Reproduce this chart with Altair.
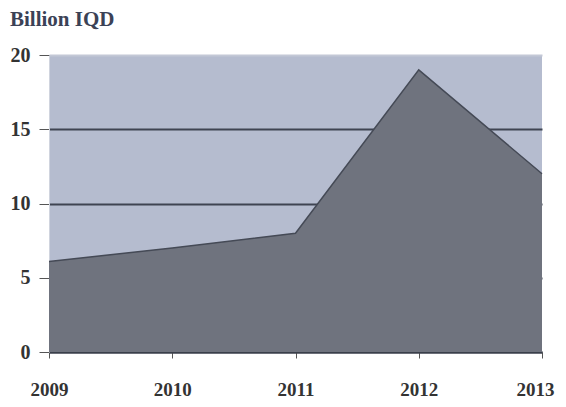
import altair as alt
import pandas as pd

years = [2009, 2010, 2011, 2012, 2013]
values = [6.1, 7.0, 8.0, 19.0, 12.0]
y_ticks = [0, 5, 10, 15, 20]

df = pd.DataFrame({"year": years, "value": values})

font = "Liberation Serif"

chart = alt.Chart(df).mark_area(
    color="#6f737e", opacity=1, line={"color": "#454a56", "strokeWidth": 1.5}
).encode(
    x=alt.X("year:Q", scale=alt.Scale(domain=[2009, 2013], nice=False, zero=False),
            axis=alt.Axis(values=years, format="d", title=None, grid=False,
                          labelFontSize=19, labelFontWeight="bold", labelFont=font,
                          labelColor="#333333", labelPadding=22, tickSize=6,
                          tickColor="#555555", domainColor="#3a3f4a", domainWidth=2,
                          labelFlush=False, labelBound=False,
                          labelOffset=alt.condition("datum.value == 2013",
                                                    alt.value(-7), alt.value(0)))),
    y=alt.Y("value:Q", scale=alt.Scale(domain=[0, 20], nice=False),
            axis=alt.Axis(values=y_ticks, title=None, grid=True,
                          gridColor=alt.condition("datum.value == 20",
                                                  alt.value("#c3c8d6"),
                                                  alt.value("#3f4452")),
                          gridWidth=2,
                          labelFontSize=20, labelFontWeight="bold", labelFont=font,
                          labelColor="#333333", labelPadding=9, tickSize=10,
                          tickColor="#555555", domainColor="#d0d4de", domainWidth=1)),
).properties(
    width=493, height=297,
    title=alt.TitleParams("Billion IQD", anchor="start", font=font, fontSize=21,
                          fontWeight="bold", color="#3b4256", dx=0, offset=15),
    autosize=alt.AutoSizeParams(type="none"),
    padding={"left": 41, "top": 47, "right": 16, "bottom": 46},
).configure(background="white").configure_view(fill="#b5bccf", stroke=None)

chart.save("out.html", embed_options={"renderer": "svg", "actions": False})
